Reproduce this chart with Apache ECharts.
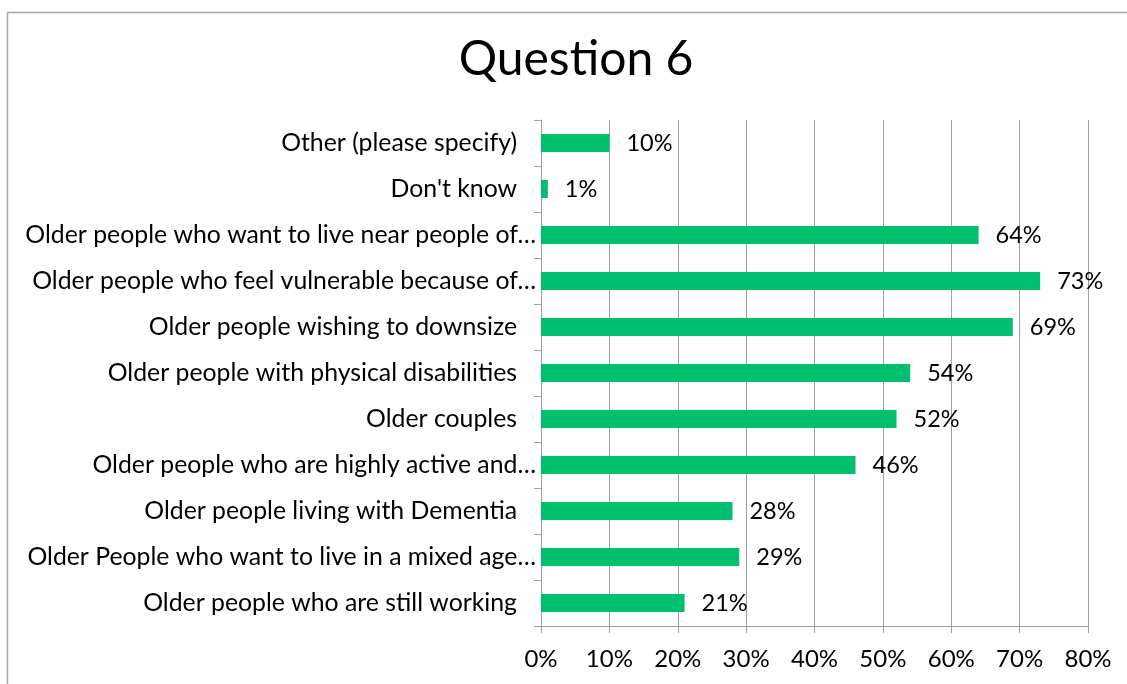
<!DOCTYPE html>
<html>
<head>
<meta charset="utf-8">
<script src="https://cdn.jsdelivr.net/npm/echarts@6/dist/echarts.min.js"></script>
<style>
  html, body { margin: 0; padding: 0; background: #fff; }
  #chart { width: 1127px; height: 684px; }
</style>
</head>
<body>
<div id="chart"></div>
<script>
// Answer options, listed top to bottom
const categories = [
  "Other (please specify)",
  "Don't know",
  "Older people who want to live near people of…",
  "Older people who feel vulnerable because of…",
  "Older people wishing to downsize",
  "Older people with physical disabilities",
  "Older couples",
  "Older people who are highly active and…",
  "Older people living with Dementia",
  "Older People who want to live in a mixed age…",
  "Older people who are still working"
];
// Share of respondents (%)
const values = [10, 1, 64, 73, 69, 54, 52, 46, 28, 29, 21];
const xTicks = [0, 10, 20, 30, 40, 50, 60, 70, 80];

const FONT = 'Lato, "Open Sans", sans-serif';
const CAT_SIZE = 24.8;
const chart = echarts.init(document.getElementById('chart'));

chart.setOption({
  animation: false,
  title: {
    text: 'Question 6',
    left: 571,
    top: 31,
    textAlign: 'center',
    textStyle: { fontFamily: FONT, fontSize: 48, fontWeight: 'normal', color: '#000' }
  },
  graphic: [{
    type: 'rect',
    shape: { x: 7.5, y: 12.5, width: 1140, height: 700 },
    style: { fill: 'none', stroke: '#a8a8a8', lineWidth: 1.5 },
    silent: true
  }],
  grid: { left: 541, right: 39, top: 120, bottom: 58 },
  xAxis: {
    type: 'value',
    min: xTicks[0],
    max: xTicks[xTicks.length - 1],
    interval: 10,
    axisLine: { show: true, lineStyle: { color: '#a0a0a0', width: 1 } },
    axisTick: { show: true, length: 7, lineStyle: { color: '#a0a0a0' } },
    splitLine: { show: true, lineStyle: { color: '#a0a0a0', width: 1 } },
    axisLabel: {
      margin: 21,
      fontFamily: FONT, fontSize: 24, color: '#000',
      formatter: v => v + '%'
    }
  },
  yAxis: {
    type: 'category',
    inverse: true,
    data: categories,
    axisLine: { show: true, lineStyle: { color: '#a0a0a0', width: 1 } },
    axisTick: { show: true, length: 7, lineStyle: { color: '#a0a0a0' } },
    axisLabel: {
      margin: 5,
      fontFamily: FONT, fontSize: CAT_SIZE, color: '#000',
      formatter: v => v.endsWith('…') ? '{t|' + v + '}' : '{p|' + v + '}',
      rich: {
        t: { fontFamily: FONT, fontSize: CAT_SIZE, color: '#000' },
        p: { fontFamily: FONT, fontSize: CAT_SIZE, color: '#000', padding: [0, 19, 0, 0] }
      }
    }
  },
  series: [{
    type: 'bar',
    data: values,
    barWidth: 18,
    itemStyle: { color: '#00BF6F' },
    label: {
      show: true,
      position: 'right',
      distance: 17,
      fontFamily: FONT, fontSize: 23.5, color: '#000',
      formatter: p => p.value + '%'
    }
  }]
});
</script>
</body>
</html>
